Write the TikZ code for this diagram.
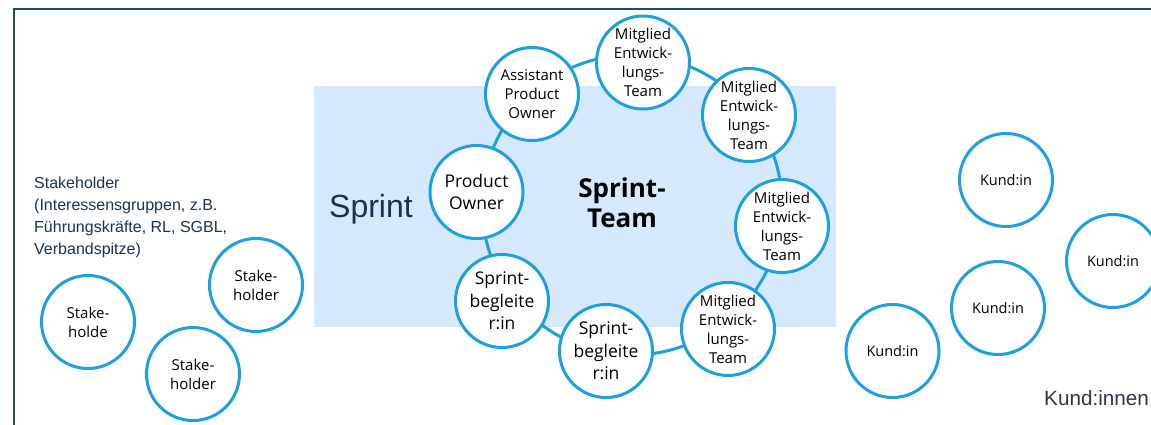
\documentclass[tikz,border=0pt]{standalone}
\usepackage{fontspec}
\setmainfont{Liberation Sans}
\newfontfamily\segfont{Open Sans}
\definecolor{ringblue}{RGB}{30,160,222}
\definecolor{framenavy}{RGB}{31,73,125}
\definecolor{sprintbg}{RGB}{214,233,252}
\definecolor{navytext}{RGB}{28,50,85}
\definecolor{greytext}{RGB}{45,55,70}
\tikzset{
  member/.style={circle, draw=ringblue, line width=3pt, fill=white,
    minimum size=93pt, inner sep=0pt, align=center,
    font=\segfont\fontsize{15}{19}\selectfont},
  bigmember/.style={member, font=\segfont\fontsize{17.5}{22.5}\selectfont},
  kunde/.style={member, font=\segfont\fontsize{14.5}{18}\selectfont},
  ringline/.style={circle, draw=ringblue, line width=3pt, minimum size=300pt, inner sep=0pt},
  sprintarea/.style={fill=sprintbg, draw=none, minimum width=522pt, minimum height=241pt, inner sep=0pt},
  framebox/.style={draw=framenavy, line width=2.2pt}
}
\begin{document}
\begin{tikzpicture}[x=1pt,y=-1pt]
\useasboundingbox (0,0) rectangle (1151,424);
\begin{scope}
  \clip (0,0) rectangle (1151,424);
  \draw[framebox] (14,9) rectangle (1180,450);
\end{scope}

% sprint area
\node[sprintarea] (area) at (575,206.5) {};
\node[anchor=base west, inner sep=0pt, text=navytext, font=\fontsize{32}{36}\selectfont] (sprint) at (329,217) {Sprint};

% ring
\node[ringline] (ring) at (632,205) {};
\node[font=\segfont\bfseries\fontsize{26}{30}\selectfont, align=center, inner sep=0pt] (team) at (622,203) {Sprint-\\Team};

\node[bigmember] (po)  at (476.5,192) {Product\\Owner};
\node[member]    (apo) at (532,94)    {Assistant\\Product\\Owner};
\node[member]    (m1)  at (643,62.5)  {Mitglied\\Entwick-\\lungs-\\Team};
\node[member]    (m2)  at (749,115)   {Mitglied\\Entwick-\\lungs-\\Team};
\node[member]    (m3)  at (782,226)   {Mitglied\\Entwick-\\lungs-\\Team};
\node[member]    (m4)  at (728,329)   {Mitglied\\Entwick-\\lungs-\\Team};
\node[bigmember] (sb2) at (606,351)   {Sprint-\\begleite\\r:in};
\node[bigmember] (sb1) at (502,301)   {Sprint-\\begleite\\r:in};

% stakeholders
\node[anchor=north west, inner sep=0pt, align=left, text=navytext,
  font=\fontsize{16}{22}\selectfont] (stk) at (34,177)
  {Stakeholder\\(Interessensgruppen, z.B.\\Führungskräfte, RL, SGBL,\\Verbandspitze)};
\node[member] (s1) at (88,322)  {Stake-\\holde};
\node[member] (s2) at (256,285) {Stake-\\holder};
\node[member] (s3) at (193,374) {Stake-\\holder};

% customers
\node[kunde] (k1) at (1006,180) {Kund:in};
\node[kunde] (k2) at (1113,261) {Kund:in};
\node[kunde] (k3) at (998,308)  {Kund:in};
\node[kunde] (k4) at (892.5,351) {Kund:in};
\node[anchor=base west, inner sep=0pt, text=greytext, font=\fontsize{20.7}{24}\selectfont] (kl) at (1044,405) {Kund:innen};
\end{tikzpicture}
\end{document}
